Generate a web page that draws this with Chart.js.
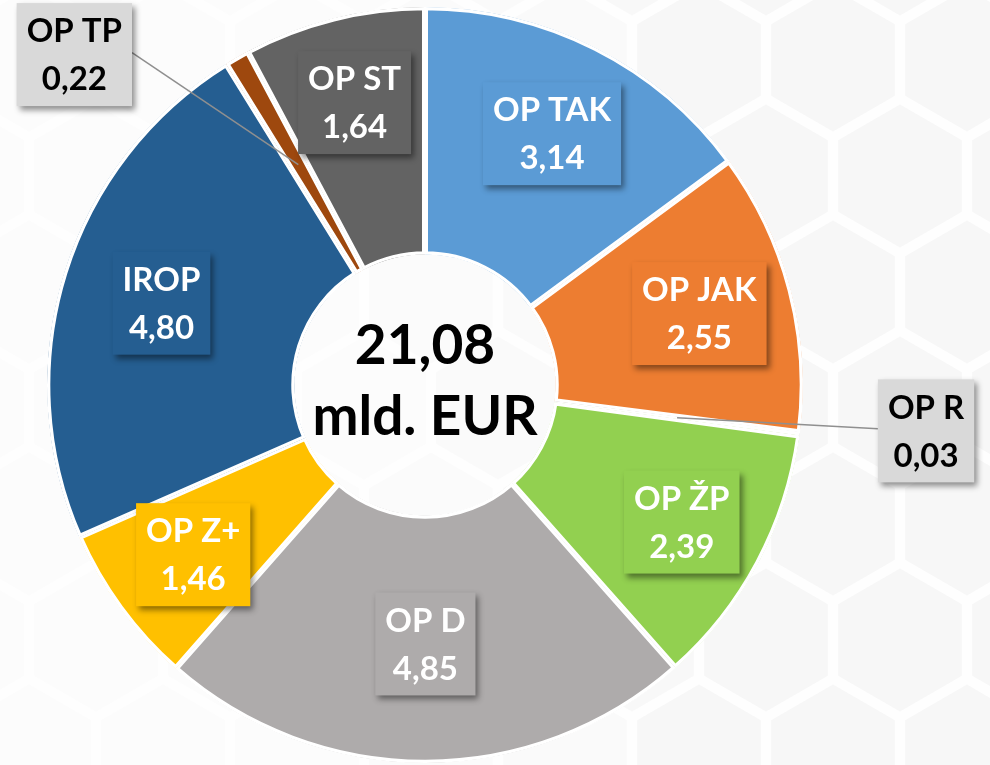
<!DOCTYPE html>
<html>
<head>
<meta charset="utf-8">
<script src="https://cdn.jsdelivr.net/npm/chart.js@4.4.1/dist/chart.umd.min.js"></script>
<style>
html, body { margin: 0; padding: 0; background: #fdfdfd; }
canvas { display: block; }
</style>
</head>
<body>
<canvas id="chart" width="990" height="765"></canvas>
<script>
// data (mld. EUR)
var categories = ["OP TAK", "OP JAK", "OP R", "OP ŽP", "OP D", "OP Z+", "IROP", "OP TP", "OP ST"];
var values = [3.14, 2.55, 0.03, 2.39, 4.85, 1.46, 4.80, 0.22, 1.64];
var centerLines = ["21,08", "mld. EUR"];

// styles
var sliceColors = ["#5B9BD5", "#ED7D31", "#A5A5A5", "#92D050", "#AEABAB", "#FFC000", "#255E91", "#9E480E", "#636363"];
var boxColors   = ["#5B9BD5", "#ED7D31", "#D9D9D9", "#92D050", "#AEABAB", "#FFC000", "#255E91", "#D9D9D9", "#636363"];
var textColors  = ["#fff", "#fff", "#000", "#fff", "#fff", "#fff", "#fff", "#000", "#fff"];
// r = label inside the ring at r * outer radius; dx/dy = callout box offset from the slice
var labelPlace = [
    {r: 0.745}, {r: 0.75}, {dx: 249, dy: 13}, {r: 0.77}, {r: 0.685},
    {r: 0.76}, {r: 0.73}, {dx: -224, dy: -110}, {r: 0.77}
];
var FONT = 'Lato, "Open Sans", sans-serif';

function fmt(v) {
    return v.toFixed(2).replace(".", ",");
}

function hexPath(ctx, cx, cy, s) {
    ctx.beginPath();
    for (var k = 0; k < 6; k++) {
        var a = Math.PI / 180 * (60 * k - 90);
        ctx.lineTo(cx + s * Math.cos(a), cy + s * Math.sin(a));
    }
    ctx.closePath();
}

var hexBackground = {
    id: 'hexBackground',
    beforeDraw: function(chart) {
        var ctx = chart.ctx;
        ctx.save();
        ctx.fillStyle = "#fefefe";
        ctx.fillRect(0, 0, chart.width, chart.height);
        var S = 77.4;
        for (var j = -1; j < 9; j++) {
            for (var k = -7; k < 3; k++) {
                var cx = 833 + 134 * k + (Math.abs(j) % 2 ? 67 : 0);
                var cy = 60 + 116 * j;
                ctx.globalAlpha = Math.min(1, Math.max(0.25, (cx - 300) / 400));
                ctx.fillStyle = "#f7f7f7";
                hexPath(ctx, cx, cy, S - 6);
                ctx.fill();
            }
        }
        ctx.restore();
    }
};

function drawBox(ctx, cx, cy, lines, bg, fg) {
    var w = Math.max(ctx.measureText(lines[0]).width, ctx.measureText(lines[1]).width) + 20;
    var h = 103;
    ctx.save();
    ctx.shadowColor = "rgba(0,0,0,0.45)";
    ctx.shadowBlur = 6;
    ctx.shadowOffsetX = 3;
    ctx.shadowOffsetY = 4;
    ctx.fillStyle = bg;
    ctx.fillRect(cx - w / 2, cy - h / 2, w, h);
    ctx.restore();
    ctx.fillStyle = fg;
    ctx.fillText(lines[0], cx, cy - 23);
    ctx.fillText(lines[1], cx, cy + 25);
    return w;
}

var boxLabels = {
    id: 'boxLabels',
    afterDatasetsDraw: function(chart) {
        var ctx = chart.ctx;
        var arcs = chart.getDatasetMeta(0).data;
        ctx.save();
        ctx.font = 'bold 33px ' + FONT;
        ctx.textAlign = "center";
        ctx.textBaseline = "middle";
        arcs.forEach(function(arc, i) {
            var p = arc.getProps(['x', 'y', 'startAngle', 'endAngle', 'innerRadius', 'outerRadius'], true);
            var mid = (p.startAngle + p.endAngle) / 2;
            var place = labelPlace[i];
            var lines = [categories[i], fmt(values[i])];
            if (place.r) {
                var rr = p.outerRadius * place.r;
                drawBox(ctx, p.x + Math.cos(mid) * rr, p.y + Math.sin(mid) * rr, lines, boxColors[i], textColors[i]);
            } else {
                var ar = (p.innerRadius + p.outerRadius) / 2;
                var ax = p.x + Math.cos(mid) * ar, ay = p.y + Math.sin(mid) * ar;
                var bx = ax + place.dx, by = ay + place.dy;
                var w = Math.max(ctx.measureText(lines[0]).width, ctx.measureText(lines[1]).width) + 20;
                var ex = place.dx > 0 ? bx - w / 2 : bx + w / 2;
                ctx.save();
                ctx.strokeStyle = "#8f8f8f";
                ctx.lineWidth = 1.5;
                ctx.beginPath();
                ctx.moveTo(ax, ay);
                ctx.lineTo(ex, by - 2);
                ctx.stroke();
                ctx.restore();
                drawBox(ctx, bx, by, lines, boxColors[i], textColors[i]);
            }
        });
        // total in the hole
        var c = arcs[0];
        ctx.fillStyle = "#000";
        ctx.font = 'bold 55px ' + FONT;
        ctx.fillText(centerLines[0], c.x, c.y - 39);
        ctx.fillText(centerLines[1], c.x, c.y + 32);
        ctx.restore();
    }
};

window.addEventListener("load", function() {
    var ctx = document.getElementById("chart").getContext("2d");
    new Chart(ctx, {
        type: 'doughnut',
        data: {
            labels: categories,
            datasets: [{
                data: values,
                backgroundColor: sliceColors,
                borderColor: "#ffffff",
                borderWidth: 3,
                borderAlign: 'inner'
            }]
        },
        options: {
            responsive: false,
            animation: false,
            radius: 378,
            cutout: '34.5%',
            layout: { padding: { left: 0, right: 140, top: 5, bottom: 0 } },
            plugins: {
                legend: { display: false },
                tooltip: { enabled: false }
            }
        },
        plugins: [hexBackground, boxLabels]
    });
});
</script>
</body>
</html>
